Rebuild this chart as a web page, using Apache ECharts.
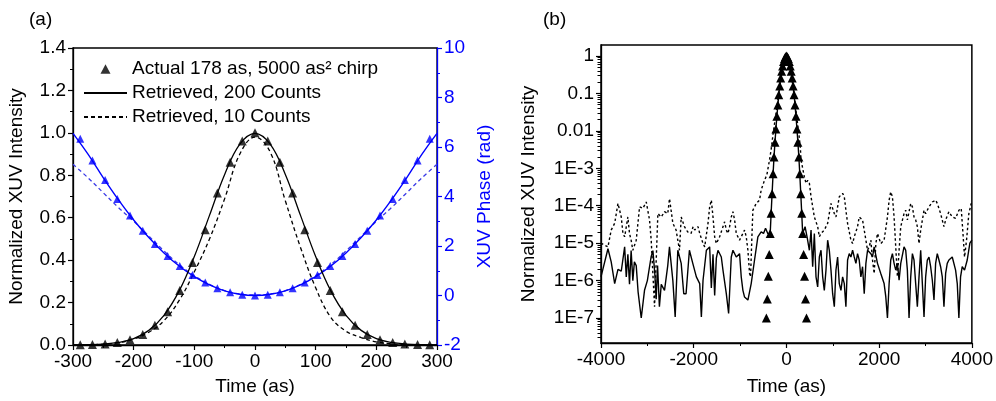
<!DOCTYPE html>
<html><head><meta charset="utf-8">
<script src="https://cdn.jsdelivr.net/npm/echarts@6/dist/echarts.min.js"></script>
<style>html,body{margin:0;padding:0;background:#fff}#c{width:996px;height:401px}</style>
</head><body><div id="c"></div>
<script>
// ---------- Panel (a) data ----------
const actualT = [-433,-412,-391,-371,-350,-330,-309,-288,-268,-247,-227,-206,-185,-165,-144,-124,-103,-82,-62,-41,-21,0,21,41,62,82,103,124,144,165,185,206,227,247,268,288,309,330,350,371,391,412,433];
const actualI = [1e-7,3.2e-7,1.3e-6,5e-6,1.8e-5,6.3e-5,2.1e-4,7.1e-4,2.0e-3,5.0e-3,0.0112,0.0245,0.049,0.093,0.157,0.257,0.389,0.543,0.716,0.862,0.962,1,0.962,0.862,0.716,0.543,0.389,0.257,0.157,0.093,0.049,0.0245,0.0112,5.0e-3,2.0e-3,7.1e-4,2.1e-4,6.3e-5,1.8e-5,5e-6,1.3e-6,3.2e-7,1e-7];
const phaseT = [-288,-268,-247,-227,-206,-185,-165,-144,-124,-103,-82,-62,-41,-21,0,21,41,62,82,103,124,144,165,185,206,227,247,268,288];
const phaseActual = [6.33,5.45,4.67,3.90,3.23,2.62,2.08,1.60,1.19,0.83,0.53,0.29,0.13,0.03,0,0.03,0.13,0.29,0.53,0.83,1.19,1.60,2.08,2.62,3.23,3.90,4.67,5.45,6.33];
const leftT = [-300,-275,-250,-225,-200,-175,-150,-125,-100,-75,-50,-25,0,25,50,75,100,125,150,175,200,225,250,275,300];
const int200 = [0.0004,0.0013,0.0042,0.012,0.030,0.069,0.140,0.255,0.417,0.611,0.804,0.947,0.998,0.947,0.804,0.611,0.417,0.255,0.140,0.069,0.030,0.012,0.0042,0.0013,0.0004];
const int10 = [0.0004,0.0012,0.004,0.011,0.028,0.06,0.115,0.21,0.345,0.50,0.69,0.90,0.98,0.91,0.68,0.46,0.27,0.13,0.065,0.035,0.015,0.006,0.002,0.0008,0.0003];
const phase200 = [6.55,5.7,4.75,3.86,3.05,2.34,1.72,1.19,0.76,0.43,0.19,0.05,0,0.05,0.19,0.43,0.76,1.19,1.72,2.34,3.05,3.86,4.75,5.7,6.55];
const phase10 = [5.3,4.75,4.15,3.55,3.0,2.4,1.8,1.25,0.8,0.45,0.2,0.06,0.02,0.06,0.2,0.45,0.8,1.25,1.8,2.4,3.0,3.55,4.15,4.75,5.3];

// ---------- Panel (b) data: [time, log10 intensity] ----------
const logSolid200 = [[-4000,-5.9],[-3850,-5.15],[-3780,-5.5],[-3705,-6.08],[-3634,-5.7],[-3563,-5.75],[-3490,-5.1],[-3455,-5.9],[-3420,-5.3],[-3385,-6.1],[-3350,-5.2],[-3313,-6.0],[-3280,-5.5],[-3240,-5.6],[-3200,-6.3],[-3132,-7.0],[-3060,-6.25],[-3000,-6.0],[-2920,-5.37],[-2880,-5.2],[-2840,-5.8],[-2810,-6.5],[-2780,-5.6],[-2740,-6.7],[-2700,-6.1],[-2630,-6.26],[-2560,-5.6],[-2523,-5.1],[-2450,-6.0],[-2400,-6.97],[-2343,-5.19],[-2270,-5.54],[-2215,-6.35],[-2165,-6.35],[-2093,-5.19],[-2020,-5.54],[-1943,-5.9],[-1871,-6.08],[-1835,-6.97],[-1799,-5.99],[-1727,-5.19],[-1656,-5.1],[-1620,-6.2],[-1584,-5.3],[-1548,-6.4],[-1512,-5.4],[-1477,-5.19],[-1405,-5.37],[-1369,-5.72],[-1297,-6.35],[-1247,-6.88],[-1190,-5.37],[-1154,-5.19],[-1082,-5.37],[-1011,-5.28],[-975,-5.9],[-939,-6.26],[-903,-6.44],[-831,-6.52],[-760,-6.08],[-688,-5.45],[-616,-4.83],[-545,-4.7],[-494,-4.74],[-451,-4.6],[-400,-4.75],
[-350,-4.74],[-330,-4.2],[-309,-3.67],[-288,-3.15],[-268,-2.7],[-247,-2.3],[-227,-1.95],[-206,-1.61],[-185,-1.31],[-165,-1.03],[-144,-0.8],[-124,-0.59],[-103,-0.41],[-82,-0.265],[-62,-0.145],[-41,-0.065],[-21,-0.017],[0,0],[21,-0.017],[41,-0.065],[62,-0.145],[82,-0.265],[103,-0.41],[124,-0.59],[144,-0.8],[165,-1.03],[185,-1.31],[206,-1.61],[227,-1.95],[247,-2.3],[268,-2.7],[288,-3.15],[309,-3.67],[330,-4.2],[350,-4.74],
[402,-4.56],[445,-4.83],[495,-5.19],[531,-4.65],[566,-5.63],[602,-4.74],[638,-5.9],[674,-6.17],[710,-5.37],[746,-5.19],[782,-5.9],[817,-6.26],[853,-5.72],[889,-4.92],[925,-5.19],[961,-5.72],[997,-6.35],[1033,-6.7],[1068,-5.72],[1104,-5.37],[1140,-6.08],[1176,-6.26],[1212,-5.9],[1248,-6.08],[1283,-6.7],[1319,-5.45],[1355,-5.28],[1391,-5.37],[1427,-5.19],[1463,-5.37],[1499,-5.54],[1534,-5.28],[1570,-5.45],[1606,-5.9],[1642,-5.63],[1678,-6.35],[1714,-5.54],[1750,-5.19],[1785,-5.19],[1821,-5.28],[1857,-5.37],[1892,-5.1],[1964,-5.54],[2035,-5.81],[2107,-6.08],[2143,-6.43],[2179,-7.0],[2215,-6.08],[2250,-5.45],[2286,-5.28],[2322,-5.54],[2358,-5.72],[2394,-5.54],[2430,-5.99],[2466,-5.54],[2537,-5.1],[2573,-5.19],[2609,-5.72],[2645,-7.0],[2681,-5.9],[2717,-5.28],[2752,-5.45],[2788,-6.08],[2824,-6.7],[2860,-5.9],[2896,-5.19],[2932,-5.19],[2968,-6.97],[3003,-5.9],[3039,-5.45],[3075,-5.37],[3111,-5.63],[3147,-5.99],[3183,-6.52],[3218,-5.54],[3254,-5.28],[3290,-5.45],[3326,-5.63],[3362,-5.9],[3398,-6.7],[3434,-5.81],[3469,-5.54],[3505,-5.45],[3577,-5.37],[3649,-5.72],[3685,-6.08],[3720,-7.0],[3756,-5.9],[3792,-5.63],[3842,-5.72],[3900,-5.45],[3957,-5.0],[4000,-4.92]];
const logDashed10 = [[-4000,-5.0],[-3850,-5.1],[-3780,-4.65],[-3705,-4.47],[-3634,-3.94],[-3563,-4.3],[-3527,-4.74],[-3490,-4.83],[-3420,-4.3],[-3385,-4.74],[-3350,-4.92],[-3313,-5.19],[-3240,-4.92],[-3168,-4.03],[-3096,-4.07],[-3024,-3.9],[-2953,-4.38],[-2917,-4.92],[-2845,-6.7],[-2773,-4.21],[-2700,-4.3],[-2630,-4.16],[-2560,-4.21],[-2522,-3.81],[-2450,-4.47],[-2380,-4.65],[-2307,-5.19],[-2270,-4.3],[-2200,-4.56],[-2130,-4.7],[-2057,-4.74],[-2014,-4.56],[-1978,-4.65],[-1907,-4.56],[-1871,-4.74],[-1799,-5.01],[-1763,-5.1],[-1692,-4.47],[-1656,-4.03],[-1620,-3.85],[-1584,-4.3],[-1548,-4.83],[-1512,-5.01],[-1441,-4.83],[-1369,-4.56],[-1333,-4.43],[-1297,-4.65],[-1261,-4.74],[-1226,-4.56],[-1190,-4.3],[-1154,-4.16],[-1118,-4.38],[-1082,-4.74],[-1011,-4.92],[-939,-4.74],[-903,-4.65],[-867,-4.83],[-831,-5.19],[-795,-5.81],[-774,-5.9],[-745,-4.83],[-724,-4.12],[-652,-3.94],[-580,-3.85],[-545,-3.58],[-473,-3.32],[-423,-3.18],[-365,-2.78],[-330,-2.5],[-290,-2.1],[-250,-1.75],[-210,-1.4],[-170,-1.05],[-130,-0.7],[-90,-0.35],[-50,-0.12],[-10,-0.01],[30,-0.06],[70,-0.25],[110,-0.55],[150,-0.9],[190,-1.3],[230,-1.7],[270,-2.1],[300,-2.45],[315,-2.78],[387,-3.23],[423,-3.4],[459,-3.32],[495,-3.4],[531,-3.76],[602,-4.3],[638,-4.43],[674,-4.56],[710,-4.83],[746,-4.74],[817,-4.65],[889,-4.47],[961,-3.94],[997,-3.9],[1033,-4.21],[1068,-4.3],[1140,-3.76],[1212,-3.67],[1248,-3.76],[1283,-4.12],[1319,-4.47],[1391,-4.92],[1427,-5.01],[1463,-4.83],[1534,-4.56],[1570,-4.3],[1606,-4.25],[1642,-4.38],[1678,-4.65],[1714,-4.92],[1750,-5.19],[1785,-5.1],[1821,-4.92],[1857,-5.45],[1893,-5.81],[1929,-5.01],[1964,-4.74],[2035,-5.01],[2107,-4.92],[2179,-4.3],[2215,-3.85],[2250,-3.63],[2286,-3.76],[2322,-4.3],[2358,-5.1],[2394,-5.9],[2430,-5.19],[2466,-4.56],[2537,-4.21],[2573,-4.12],[2609,-4.38],[2681,-3.94],[2717,-4.03],[2752,-4.3],[2788,-4.38],[2824,-4.56],[2860,-5.01],[2896,-4.65],[2968,-4.12],[3003,-4.21],[3075,-4.03],[3147,-3.9],[3218,-3.85],[3254,-3.94],[3326,-4.21],[3398,-4.56],[3434,-4.38],[3505,-4.16],[3577,-4.3],[3649,-4.34],[3720,-4.12],[3770,-4.07],[3813,-4.83],[3842,-5.37],[3885,-4.92],[3935,-4.21],[3986,-3.94],[4000,-3.95]];
const logTicks = [1e-7,1e-6,1e-5,1e-4,1e-3,0.01,0.1,1];
const logTickLabels = ['1E-7','1E-6','1E-5','1E-4','1E-3','0.01','0.1','1'];
const legendNames = ['Actual 178 as, 5000 as\u00B2 chirp','Retrieved, 200 Counts','Retrieved, 10 Counts'];

// ---------- build ----------
const zip = (a, b) => a.map((v, i) => [v, b[i]]);
const fromLog = arr => arr.map(p => [p[0], Math.pow(10, p[1])]);
const minorLog = [];
for (let d = -8; d <= 0; d++) for (let m = 2; m <= 9; m++) minorLog.push(m * Math.pow(10, d));

const FONT = 'Liberation Sans, Arial, sans-serif';
const BLUE = '#0000ff';
const txt = {fontSize: 19, fontFamily: FONT, color: '#000'};
const baseAxis = (color) => ({
  axisLine: {show: true, onZero: false, lineStyle: {color: color, width: 1.3}},
  axisTick: {show: true, length: 5, lineStyle: {color: color, width: 1.2}},
  minorTick: {show: true, splitNumber: 2, length: 3, lineStyle: {color: color, width: 1}},
  splitLine: {show: false},
  axisLabel: Object.assign({}, txt, {color: color, margin: 7, formatter: v => String(v)}),
  nameTextStyle: Object.assign({}, txt, {color: color}),
  nameLocation: 'middle'
});
// legend triangle icon: invisible specks at both ends keep the icon box 43 wide so the triangle is not stretched
const TRI_ICON = 'path://M0,10L0.01,10L0,9.99Z M16.5,10L21.5,0.5L26.5,10Z M43,10L42.99,10L43,9.99Z';

const chart = echarts.init(document.getElementById('c'), null, {renderer: 'canvas'});
chart.setOption({
  animation: false,
  backgroundColor: '#fff',
  textStyle: {fontFamily: FONT},
  graphic: [
    {type: 'text', left: 29, top: 10, style: {text: '(a)', font: '19px ' + FONT, fill: '#000'}},
    {type: 'text', left: 543, top: 10, style: {text: '(b)', font: '19px ' + FONT, fill: '#000'}}
  ],
  legend: {
    left: 83, top: 59, padding: 0, orient: 'vertical', itemWidth: 43, itemHeight: 10, itemGap: 4,
    selectedMode: false, textStyle: Object.assign({}, txt, {lineHeight: 20}),
    data: [
      {name: legendNames[0], icon: TRI_ICON},
      {name: legendNames[1], itemStyle: {opacity: 0}},
      {name: legendNames[2], itemStyle: {opacity: 0}}
    ]
  },
  grid: [
    {left: 73, top: 48, width: 364, height: 297, show: true, borderColor: '#000', borderWidth: 1.3, containLabel: false},
    {left: 601, top: 45, width: 372, height: 298, show: true, borderColor: '#000', borderWidth: 1.5, containLabel: false}
  ],
  xAxis: [
    Object.assign(baseAxis('#000'), {gridIndex: 0, type: 'value', min: -300, max: 300, interval: 100, name: 'Time (as)', nameGap: 32}),
    Object.assign(baseAxis('#000'), {gridIndex: 1, type: 'value', min: -4000, max: 4000, interval: 2000, name: 'Time (as)', nameGap: 34})
  ],
  yAxis: [
    Object.assign(baseAxis('#000'), {gridIndex: 0, type: 'value', position: 'left', min: 0, max: 1.4, interval: 0.2,
      name: 'Normalized XUV Intensity', nameGap: 47,
      axisLabel: Object.assign({}, txt, {margin: 7, formatter: v => v.toFixed(1)})}),
    Object.assign(baseAxis(BLUE), {gridIndex: 0, type: 'value', position: 'right', min: -2, max: 10, interval: 2,
      name: 'XUV Phase (rad)', nameGap: 38}),
    Object.assign(baseAxis('#000'), {gridIndex: 1, type: 'log', position: 'left', min: 2.15e-8, max: 1.97,
      name: 'Normalized XUV Intensity', nameGap: 63,
      minorTick: {show: false},
      axisTick: {show: true, length: 5, customValues: logTicks, lineStyle: {color: '#000', width: 1.2}},
      axisLabel: Object.assign({}, txt, {margin: 7, customValues: logTicks,
        formatter: v => { const i = logTicks.findIndex(t => Math.abs(Math.log10(t) - Math.log10(v)) < 1e-6); return i >= 0 ? logTickLabels[i] : ''; }})}),
    {gridIndex: 1, type: 'log', position: 'left', min: 2.15e-8, max: 1.97,
      axisLine: {show: false, onZero: false}, splitLine: {show: false}, axisLabel: {show: false},
      axisTick: {show: true, length: 3.5, customValues: minorLog, lineStyle: {color: '#000', width: 1}}}
  ],
  series: [
    {name: 'phase10', type: 'line', xAxisIndex: 0, yAxisIndex: 1, data: zip(leftT, phase10), smooth: 0.4, symbol: 'none',
      lineStyle: {color: '#3a3ae6', width: 1.3, type: [4, 3]}, z: 2},
    {name: 'phase200', type: 'line', xAxisIndex: 0, yAxisIndex: 1, data: zip(leftT, phase200), smooth: 0.4, symbol: 'none',
      lineStyle: {color: BLUE, width: 1.4}, z: 2},
    {name: 'phaseActual', type: 'scatter', xAxisIndex: 0, yAxisIndex: 1, data: zip(phaseT, phaseActual), symbol: 'triangle', symbolSize: 8,
      itemStyle: {color: BLUE}, z: 4},
    {name: legendNames[2], type: 'line', xAxisIndex: 0, yAxisIndex: 0, data: zip(leftT, int10), smooth: 0.4, symbol: 'none',
      itemStyle: {color: '#000'}, lineStyle: {color: '#000', width: 1.3, type: [4, 3]}, z: 3},
    {name: legendNames[1], type: 'line', xAxisIndex: 0, yAxisIndex: 0, data: zip(leftT, int200), smooth: 0.4, symbol: 'none',
      itemStyle: {color: '#000'}, lineStyle: {color: '#000', width: 1.3}, z: 3},
    {name: legendNames[0], type: 'scatter', xAxisIndex: 0, yAxisIndex: 0, data: zip(actualT, actualI), symbol: 'triangle', symbolSize: 9,
      itemStyle: {color: '#000'}, z: 5, clip: true},
    {name: 'b10', type: 'line', xAxisIndex: 1, yAxisIndex: 2, data: fromLog(logDashed10), symbol: 'none',
      lineStyle: {color: '#000', width: 1.4, type: [2.5, 2.5]}, z: 2},
    {name: 'b200', type: 'line', xAxisIndex: 1, yAxisIndex: 2, data: fromLog(logSolid200), symbol: 'none',
      lineStyle: {color: '#000', width: 1.4}, z: 3},
    {name: 'bActual', type: 'scatter', xAxisIndex: 1, yAxisIndex: 2, data: zip(actualT, actualI), symbol: 'triangle', symbolSize: 9,
      itemStyle: {color: '#000', opacity: 1}, z: 5}
  ]
});
</script></body></html>
